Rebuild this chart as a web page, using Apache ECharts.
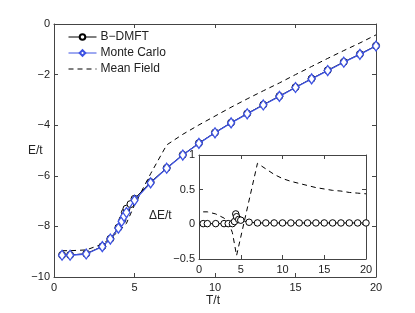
<!DOCTYPE html>
<html><head><meta charset="utf-8">
<script src="https://cdn.jsdelivr.net/npm/echarts@6/dist/echarts.min.js"></script>
<style>html,body{margin:0;padding:0;background:#fff}#c{width:415px;height:313px}</style>
</head><body><div id="c"></div>
<script>
// Main plot data
const mcT = [0.5,1,2,3,3.5,4,4.2,4.35,4.5,5,6,7,8,9,10,11,12,13,14,15,16,17,18,19,20];
const mcE = [-9.14,-9.14,-9.09,-8.8,-8.5,-8.07,-7.8,-7.6,-7.45,-6.97,-6.28,-5.7,-5.18,-4.72,-4.3,-3.91,-3.55,-3.2,-2.86,-2.51,-2.17,-1.84,-1.51,-1.2,-0.87];
const dmftT = [0.5,1,2,3,3.5,4,4.25,4.4,4.5,4.75,5,6,7,8,9,10,11,12,13,14,15,16,17,18,19,20];
const dmftE = [-9.13,-9.13,-9.08,-8.79,-8.49,-8.05,-7.74,-7.45,-7.3,-7.12,-6.91,-6.25,-5.69,-5.17,-4.71,-4.29,-3.9,-3.54,-3.19,-2.85,-2.5,-2.16,-1.83,-1.5,-1.19,-0.86];
const mfT = [0.5,1,2,3,3.5,4,4.25,4.5,5,6,7,8,9,10,11,12,13,14,15,16,17,18,19,20];
const mfE = [-8.96,-8.96,-8.93,-8.7,-8.47,-8.2,-8.05,-7.88,-7.15,-5.92,-4.78,-4.36,-3.99,-3.64,-3.29,-2.96,-2.64,-2.33,-2.0,-1.68,-1.36,-1.05,-0.75,-0.43];
// Inset data (Delta E)
const dDmftE = [0.01,0.01,0.01,0.01,0.01,0.01,0.04,0.15,0.11,0.07,0.06,0.03,0.02,0.02,0.02,0.02,0.02,0.02,0.02,0.02,0.02,0.02,0.02,0.02,0.02,0.02];
const dMfT = [0.5,1,2,3,3.5,4,4.5,7,8,9,10,11,12,13,14,15,16,17,18,19,20];
const dMfE = [0.18,0.18,0.15,0.09,0.04,-0.12,-0.45,0.88,0.8,0.72,0.66,0.62,0.59,0.56,0.53,0.51,0.49,0.48,0.46,0.45,0.44];
const mainXTicks = [0,5,10,15,20];
const mainYTicks = [-10,-8,-6,-4,-2,0];
const insetYTicks = [-0.5,0,0.5,1];

const zip = (a,b) => a.map((v,i)=>[v,b[i]]);
const FONT = 'Liberation Sans, Arial, sans-serif';
const AX = '#444';
const BLUE = '#3d52e3';
const fmt = v => (v<0 ? '\u2212' + Math.abs(v) : String(v));

function xAx(grid, pos, show, min, max, interval) {
  return {type:'value', gridIndex:grid, position:pos, min, max, interval,
    axisLine:{show:true,onZero:false,lineStyle:{color:AX,width:1}},
    axisTick:{show:true,inside:true,length:4,lineStyle:{color:AX}},
    axisLabel:{show:show,color:'#222',fontFamily:FONT,fontSize:11,margin:5,formatter:fmt},
    splitLine:{show:false}};
}
function yAx(grid, pos, show, min, max, interval) {
  return {type:'value', gridIndex:grid, position:pos, min, max, interval,
    axisLine:{show:true,onZero:false,lineStyle:{color:AX,width:1}},
    axisTick:{show:true,inside:true,length:4,lineStyle:{color:AX}},
    axisLabel:{show:show,color:'#222',fontFamily:FONT,fontSize:11,margin:4,formatter:fmt},
    splitLine:{show:false}};
}

const chart = echarts.init(document.getElementById('c'), null, {renderer:'canvas'});
chart.setOption({
  animation:false,
  backgroundColor:'#fff',
  grid:[
    {left:54, right:39, top:24, bottom:36},
    {left:199, right:49, top:155, bottom:54, show:true, backgroundColor:'#fff', borderWidth:0}
  ],
  xAxis:[xAx(0,'bottom',true,0,20,5), xAx(0,'top',false,0,20,5),
         xAx(1,'bottom',true,0,20,5), xAx(1,'top',false,0,20,5)],
  yAxis:[yAx(0,'left',true,-10,0,2), yAx(0,'right',false,-10,0,2),
         yAx(1,'left',true,-0.5,1,0.5), yAx(1,'right',false,-0.5,1,0.5)],
  legend:{
    orient:'vertical', left:63, top:26, itemWidth:28, itemHeight:7, itemGap:4,
    textStyle:{fontFamily:FONT,fontSize:12,color:'#222',padding:[0,0,0,-1]},
    lineStyle:{width:1},
    data:[
      {name:'B\u2212DMFT'},
      {name:'Monte Carlo'},
      {name:'Mean Field', itemStyle:{opacity:0}}
    ]
  },
  series:[
    {name:'Mean Field', type:'line', xAxisIndex:0, yAxisIndex:0, data:zip(mfT,mfE),
     showSymbol:false, symbol:'none', lineStyle:{color:'#000',width:1,type:[5,4]}, itemStyle:{color:'#000'}, z:2},
    {name:'B\u2212DMFT', type:'line', xAxisIndex:0, yAxisIndex:0, data:zip(dmftT,dmftE),
     symbol:'circle', symbolSize:7, lineStyle:{color:'#000',width:1}, itemStyle:{color:'#fff',borderColor:'#000',borderWidth:1}, z:3},
    {name:'Monte Carlo', type:'line', xAxisIndex:0, yAxisIndex:0, data:zip(mcT,mcE),
     symbol:'diamond', symbolSize:[7,10], lineStyle:{color:BLUE,width:1.3}, itemStyle:{color:'#fff',borderColor:BLUE,borderWidth:1.3}, z:4},
    {name:'dMF', type:'line', xAxisIndex:2, yAxisIndex:2, data:zip(dMfT,dMfE),
     symbol:'none', lineStyle:{color:'#000',width:1,type:[5,4]}, z:5},
    {name:'dDMFT', type:'line', xAxisIndex:2, yAxisIndex:2, data:zip(dmftT,dDmftE),
     symbol:'circle', symbolSize:6.5, lineStyle:{color:'#000',width:1}, itemStyle:{color:'#fff',borderColor:'#000',borderWidth:1}, z:6}
  ],
  graphic:[
    {type:'text', left:28, top:145, style:{text:'E/t', font:'12px '+FONT, fill:'#222'}},
    {type:'text', left:206, top:295, style:{text:'T/t', font:'12px '+FONT, fill:'#222'}},
    {type:'text', left:149, top:210, z:100, style:{text:'\u0394E/t', font:'12px '+FONT, fill:'#222'}}
  ]
});
</script></body></html>
